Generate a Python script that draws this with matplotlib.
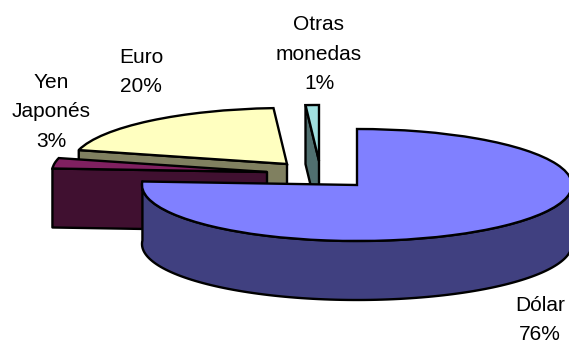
import numpy as np
import matplotlib
matplotlib.use("Agg")
import matplotlib.pyplot as plt
from matplotlib.patches import Polygon

labels = ["Dólar", "Yen\nJaponés", "Euro", "Otras\nmonedas"]
values = [76, 3, 20, 1]

top_colors = ["#8080FF", "#802060", "#FFFFC0", "#A0E0E0"]
wall_colors = ["#404080", "#401030", "#808060", "#507070"]

W, H = 569, 343
RX, RY, DEPTH = 215.0, 56.0, 59.0          # pixels
CX, CY = 357.0, 185.0                      # pixels, main slice centre
offsets_px = [(0, 0), (-90, 13), (-70, 21), (-38, 24)]   # slice explosion (right, up)
label_xy = [(540, 320), (51, 112), (141, 72), (319, 54)]
order = [2, 3, 1, 0]                       # back to front
LW = 1.7

plt.rcParams["font.family"] = ["Liberation Sans", "DejaVu Sans"]
fig = plt.figure(figsize=(W / 100, H / 100), dpi=100)
ax = fig.add_axes([0, 0, 1, 1])

wedges, _ = ax.pie(values, startangle=90, counterclock=False, radius=1,
                   colors=top_colors,
                   wedgeprops=dict(edgecolor="black", linewidth=LW))
ax.set_aspect("auto")
ax.set_xlim(-CX / RX, (W - CX) / RX)
ax.set_ylim((CY - H) / RY, CY / RY)
ax.axis("off")

dz = DEPTH / RY


def rim(c, deg):
    a = np.radians(deg)
    return np.column_stack([c[0] + np.cos(a), c[1] + np.sin(a)])


for z, i in enumerate(order):
    w = wedges[i]
    c = (offsets_px[i][0] / RX, offsets_px[i][1] / RY)
    w.set_center(c)
    w.set_zorder(2 * z + 2)
    if i == 0:
        # outer rim: only the part facing the viewer (below the centre)
        upper = rim(c, np.linspace(w.theta1, 0, 120))
    else:
        # cut face: from the slice's front radial edge back to the centre
        upper = np.vstack([rim(c, [w.theta2]), c])
    lower = (upper - [0, dz])[::-1]
    ax.add_patch(Polygon(np.vstack([upper, lower]), closed=True,
                         facecolor=wall_colors[i], edgecolor="black",
                         linewidth=LW, joinstyle="round", zorder=2 * z + 1))

for lab, val, (x, y) in zip(labels, values, label_xy):
    fig.text(x / W, 1 - y / H, f"{lab}\n{val}%", ha="center", va="center",
             fontsize=15, color="black", linespacing=1.67)

fig.savefig("out.png", dpi=100)
